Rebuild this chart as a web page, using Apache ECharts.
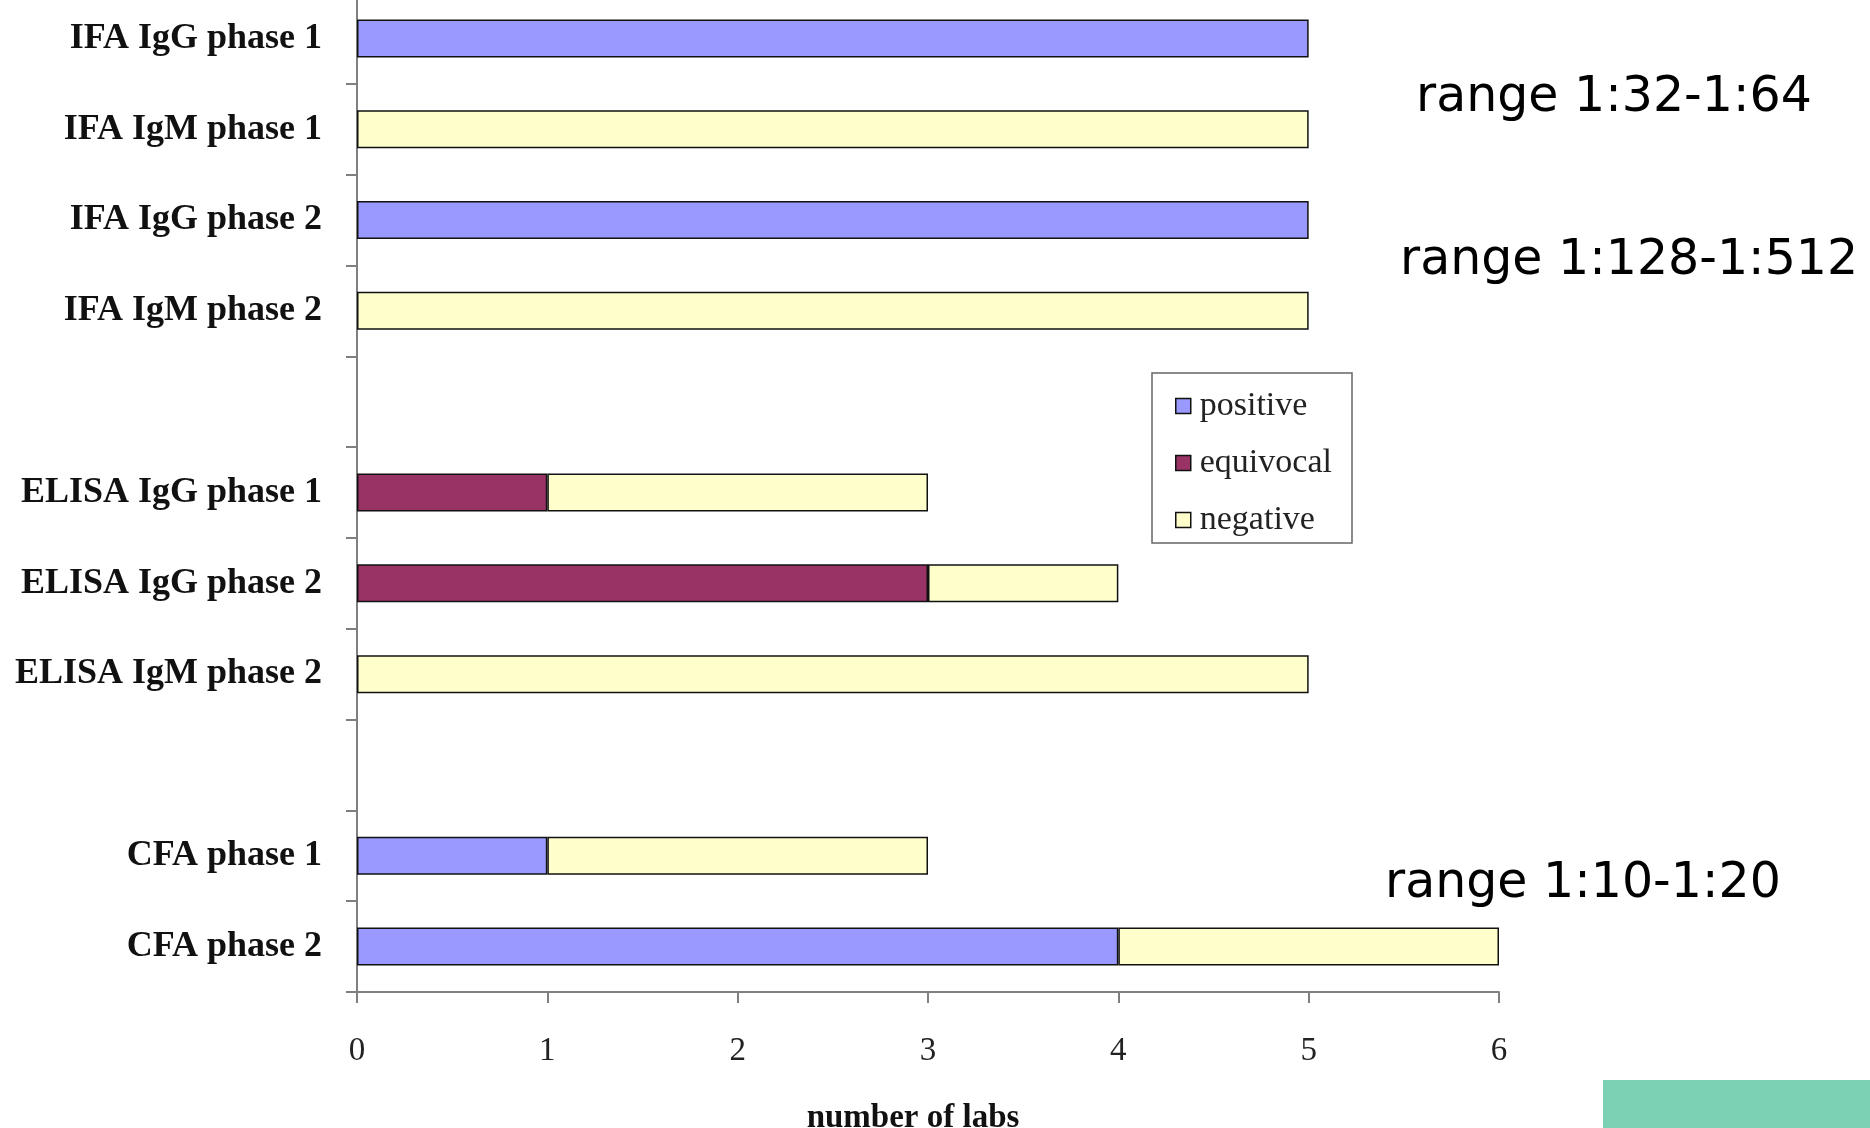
<!DOCTYPE html>
<html>
<head>
<meta charset="utf-8">
<script src="https://cdn.jsdelivr.net/npm/echarts@6/dist/echarts.min.js"></script>
<style>
html,body{margin:0;padding:0;background:#fff;}
#chart{width:1870px;height:1128px;}
</style>
</head>
<body>
<div id="chart"></div>
<script>
const categories = ['IFA IgG phase 1','IFA IgM phase 1','IFA IgG phase 2','IFA IgM phase 2','',
  'ELISA IgG phase 1','ELISA IgG phase 2','ELISA IgM phase 2',' ','CFA phase 1','CFA phase 2'];
const positive  = [5, null, 5, null, null, null, null, null, null, 1, 4];
const equivocal = [null, null, null, null, null, 1, 3, null, null, null, null];
const negative  = [null, 5, null, 5, null, 2, 1, 5, null, 2, 2];
const seriesNames = ['positive','equivocal','negative'];
const xTicks = [0, 1, 2, 3, 4, 5, 6];
const axisTitle = 'number of labs';
const notes = ['range 1:32-1:64', 'range 1:128-1:512', 'range 1:10-1:20'];

const colors = ['#9999FF', '#993366', '#FFFFCC'];
const chart = echarts.init(document.getElementById('chart'));
const barStyle = (c) => ({ color: c, borderColor: '#111', borderWidth: 1.5 });
const values = [positive, equivocal, negative];

const option = {
  animation: false,
  backgroundColor: '#fff',
  grid: { left: 357, top: -7, width: 1142, height: 999, outerBoundsMode: 'none', containLabel: false },
  xAxis: {
    type: 'value', min: xTicks[0], max: xTicks[xTicks.length - 1], interval: 1,
    splitLine: { show: false },
    axisLine: { show: true, lineStyle: { color: '#808080', width: 2 } },
    axisTick: { show: true, length: 11, lineStyle: { color: '#808080', width: 2 } },
    axisLabel: { margin: 43, fontFamily: 'Liberation Serif', fontSize: 33, color: '#222' },
    name: axisTitle, nameLocation: 'middle', nameGap: 110,
    nameTextStyle: { fontFamily: 'Liberation Serif', fontWeight: 'bold', fontSize: 33, color: '#111', padding: [0, 30, 0, 0] }
  },
  yAxis: {
    type: 'category', data: categories, inverse: true,
    axisLine: { show: true, lineStyle: { color: '#808080', width: 2 } },
    axisTick: { show: true, length: 11, lineStyle: { color: '#808080', width: 2 } },
    axisLabel: { margin: 35, fontFamily: 'Liberation Serif', fontWeight: 'bold', fontSize: 36, color: '#111' }
  },
  legend: {
    orient: 'vertical', left: 1175, top: 389, padding: 0,
    itemWidth: 15, itemHeight: 15, itemGap: 23, icon: 'rect',
    data: seriesNames,
    itemStyle: { borderColor: '#111', borderWidth: 1.5 },
    textStyle: { fontFamily: 'Liberation Serif', fontSize: 34, color: '#222', padding: [0, 0, 0, 4] }
  },
  graphic: [
    { type: 'rect', z: 1, shape: { x: 1152, y: 373, width: 200, height: 170 },
      style: { fill: '#fff', stroke: '#666', lineWidth: 1.5 } },
    { type: 'text', x: 1416, y: 98, style: { text: notes[0], fontFamily: 'DejaVu Sans', fontSize: 49, fill: '#000', verticalAlign: 'middle' } },
    { type: 'text', x: 1400, y: 261, style: { text: notes[1], fontFamily: 'DejaVu Sans', fontSize: 49, fill: '#000', verticalAlign: 'middle' } },
    { type: 'text', x: 1385, y: 884, style: { text: notes[2], fontFamily: 'DejaVu Sans', fontSize: 49, fill: '#000', verticalAlign: 'middle' } },
    { type: 'rect', shape: { x: 1603, y: 1080, width: 267, height: 48 }, style: { fill: '#7AD1B4' } }
  ],
  series: seriesNames.map((n, i) => ({
    name: n, type: 'bar', stack: 'labs', barWidth: 38,
    itemStyle: barStyle(colors[i]),
    data: values[i]
  }))
};
chart.setOption(option);
</script>
</body>
</html>
